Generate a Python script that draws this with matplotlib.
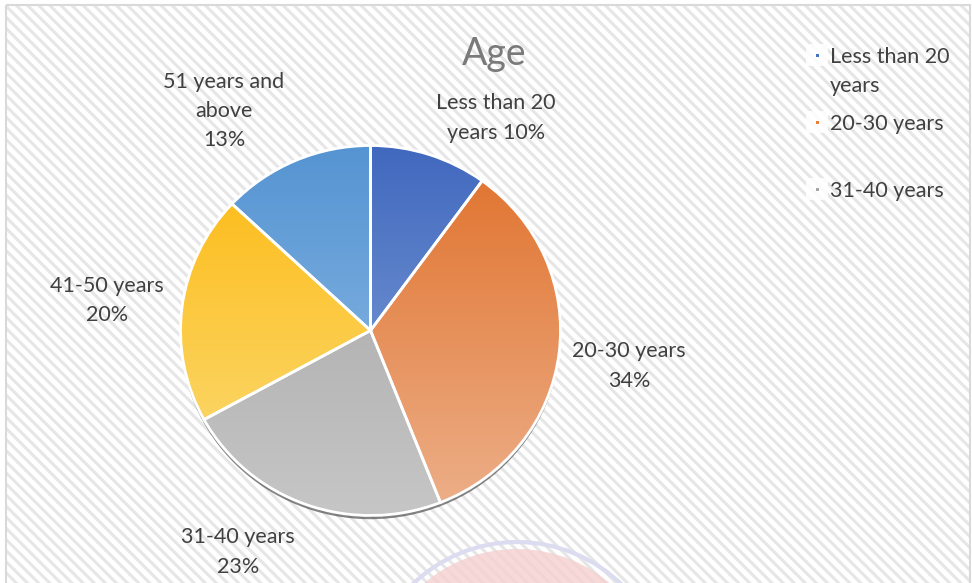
import numpy as np
import matplotlib.pyplot as plt
from matplotlib.patches import Rectangle, Circle, Wedge, Ellipse
from matplotlib.colors import LinearSegmentedColormap

categories = ['Less than 20 years', '20-30 years', '31-40 years', '41-50 years', '51 years and above']
shares = [10, 34, 23, 20, 13]
label_texts = ['Less than 20\nyears 10%', '20-30 years\n34%', '31-40 years\n23%',
               '41-50 years\n20%', '51 years and\nabove\n13%']
legend_names = ['Less than 20\nyears', '20-30 years', '31-40 years']

# dark (top) / light (bottom) colours of each slice gradient
dark = ['#4068BE', '#E0702A', '#A2A2A2', '#FDB910', '#5594D2']
light = ['#8CAADC', '#EDB08A', '#C6C6C6', '#FBDD7C', '#96C0E8']
marker_cols = ['#4472C4', '#ED7D31', '#A5A5A5']

plt.rcParams['font.family'] = ['Lato', 'DejaVu Sans']
plt.rcParams['hatch.linewidth'] = 2.2
plt.rcParams['hatch.color'] = '#e6e6e6'

W, H = 972, 583
fig = plt.figure(figsize=(W / 100, H / 100), dpi=100)

# background layer in pixel coordinates
bg = fig.add_axes([0, 0, 1, 1])
bg.set_xlim(0, W)
bg.set_ylim(H, 0)
bg.axis('off')
bg.add_patch(Rectangle((0, 0), W, H, facecolor='white', edgecolor='none', zorder=0))
bg.add_patch(Rectangle((6, 5), W - 8, H, facecolor='white', edgecolor='#e6e6e6',
                       hatch='\\\\\\', linewidth=0, zorder=1))
bg.add_patch(Rectangle((6, 5), W - 8, H, facecolor='none', edgecolor='#d9d9d9',
                       linewidth=1.5, zorder=2))

# faint watermark at the bottom
bg.add_patch(Circle((517, 692), 150, facecolor='none', edgecolor='#dcdcf0', linewidth=3, zorder=2))
bg.add_patch(Circle((517, 692), 143, facecolor='#f7d0d0', edgecolor='none', alpha=0.8, zorder=2))

txt = '#404040'
bg.text(494, 54, 'Age', fontsize=27, color='#7a7a7a', ha='center', va='center', zorder=5)

label_pos = [(496, 118), (629, 366), (238, 552), (107, 300.5), (224, 111)]
for (x, y), t in zip(label_pos, label_texts):
    bg.text(x, y, t, fontsize=15.5, color=txt, ha='center', va='center',
            linespacing=1.58, zorder=5)

legend_y = [57, 124, 191]
for y, name, c in zip(legend_y, legend_names, marker_cols):
    bg.add_patch(Rectangle((806, y - 13), 22, 22, facecolor='white', edgecolor='none',
                           alpha=0.85, zorder=4))
    bg.add_patch(Rectangle((815.5, y - 3.5), 3.5, 3.5, facecolor=c, edgecolor='none', zorder=5))
    bg.text(830, y, name.split('\n')[0], fontsize=15.5, color=txt, ha='left', va='center', zorder=5)
    if '\n' in name:
        bg.text(830, y + 29, name.split('\n')[1], fontsize=15.5, color=txt, ha='left',
                va='center', zorder=5)

# pie axes, centre at (370.5, 330.5), radii 190 x 185 px (slightly tilted look)
cx, cy, rx, ry = 370.5, 330.5, 190, 185
ax = fig.add_axes([(cx - rx) / W, (H - cy - ry) / H, 2 * rx / W, 2 * ry / H])
ax.add_patch(Ellipse((0.0, -0.02), 2.0, 2.0, facecolor='#505050', edgecolor='none',
                     alpha=0.7, zorder=0, clip_on=False))
wedges, _ = ax.pie(shares, startangle=90, counterclock=False, colors=dark,
                   wedgeprops=dict(edgecolor='none', zorder=1))
grad = np.linspace(0, 1, 256).reshape(-1, 1)
for w, d, l in zip(wedges, dark, light):
    cmap = LinearSegmentedColormap.from_list('g', [d, l])
    im = ax.imshow(grad, cmap=cmap, extent=[-1, 1, -1, 1], origin='upper',
                   aspect='auto', zorder=2)
    im.set_clip_path(w)
    ax.add_patch(Wedge((0, 0), 1.0, w.theta1, w.theta2, facecolor='none',
                       edgecolor='white', linewidth=2, zorder=3, clip_on=False))
ax.set_aspect('auto')
ax.set_xlim(-1, 1)
ax.set_ylim(-1, 1)
ax.axis('off')

fig.savefig('out.png', dpi=100)
